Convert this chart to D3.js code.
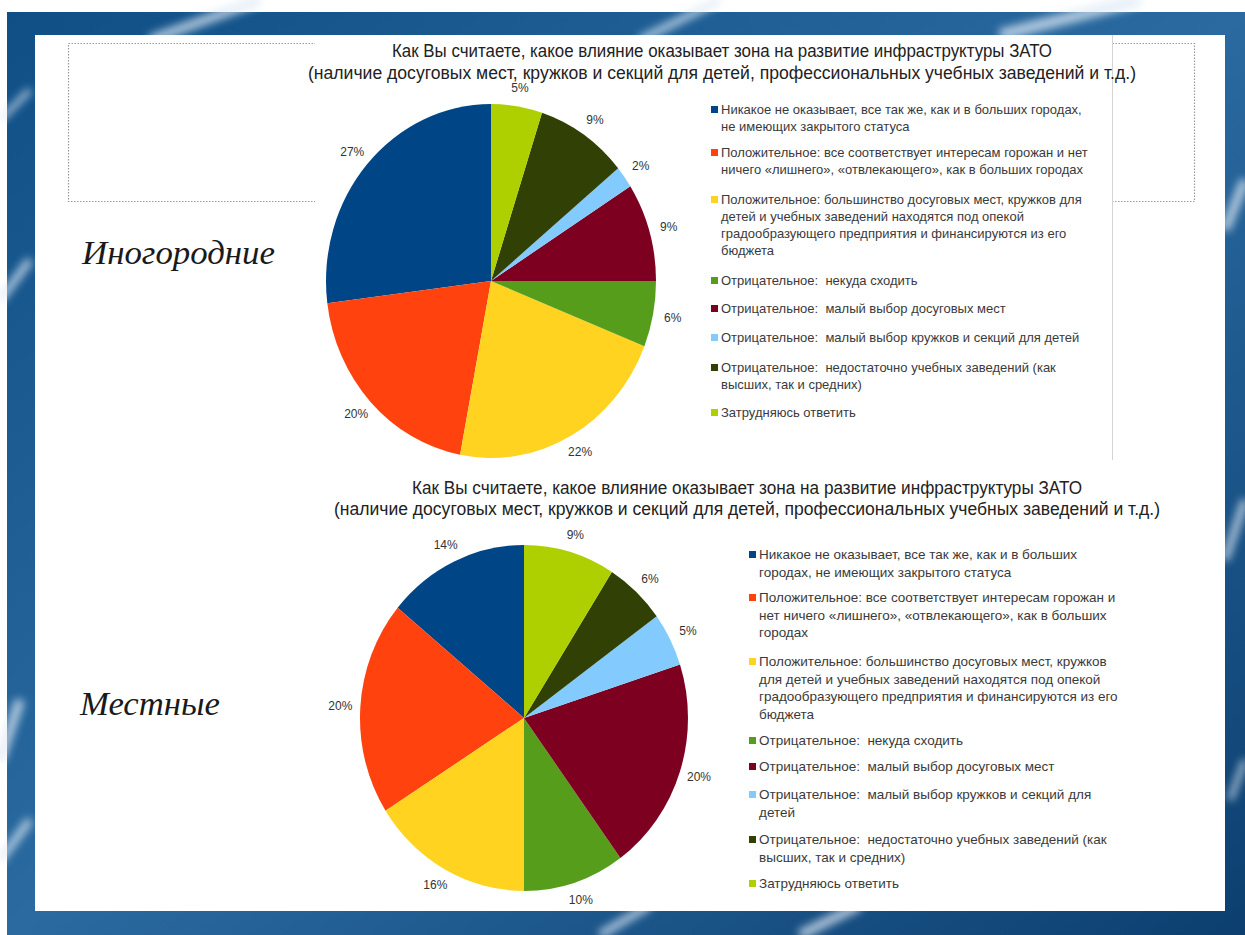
<!DOCTYPE html>
<html><head><meta charset="utf-8">
<script src="https://cdn.jsdelivr.net/npm/d3@7"></script>
<style>body{margin:0;padding:0;background:#fff;}svg{display:block;}text{white-space:pre;}</style>
</head><body>
<svg id="c" width="1245" height="935"></svg>
<script>
// ---- data ----
const categories = [
  "Никакое не оказывает, все так же, как и в больших городах, не имеющих закрытого статуса",
  "Положительное: все соответствует интересам горожан и нет ничего «лишнего», «отвлекающего», как в больших городах",
  "Положительное: большинство досуговых мест, кружков для детей и учебных заведений находятся под опекой градообразующего предприятия и финансируются из его бюджета",
  "Отрицательное:  некуда сходить",
  "Отрицательное:  малый выбор досуговых мест",
  "Отрицательное:  малый выбор кружков и секций для детей",
  "Отрицательное:  недостаточно учебных заведений (как высших, так и средних)",
  "Затрудняюсь ответить"
];
const colors = ["#004586","#ff420e","#ffd320","#579d1c","#7e0021","#83caff","#314004","#aecf00"];
const valuesNonResident = [27, 20, 22, 6, 9, 2, 9, 5];   // Иногородние
const valuesLocal       = [14, 20, 16, 10, 20, 5, 6, 9]; // Местные
const titleLines = [
  "Как Вы считаете, какое влияние оказывает зона на развитие инфраструктуры ЗАТО",
  "(наличие досуговых мест, кружков и секций для детей, профессиональных учебных заведений и т.д.)"
];
const groupNames = ["Иногородние", "Местные"];
const legendLinesTop = [
  ["Никакое не оказывает, все так же, как и в больших городах,", "не имеющих закрытого статуса"],
  ["Положительное: все соответствует интересам горожан и нет", "ничего «лишнего», «отвлекающего», как в больших городах"],
  ["Положительное: большинство досуговых мест, кружков для", "детей и учебных заведений находятся под опекой", "градообразующего предприятия и финансируются из его", "бюджета"],
  ["Отрицательное:  некуда сходить"],
  ["Отрицательное:  малый выбор досуговых мест"],
  ["Отрицательное:  малый выбор кружков и секций для детей"],
  ["Отрицательное:  недостаточно учебных заведений (как", "высших, так и средних)"],
  ["Затрудняюсь ответить"]
];
const legendLinesBottom = [
  ["Никакое не оказывает, все так же, как и в больших", "городах, не имеющих закрытого статуса"],
  ["Положительное: все соответствует интересам горожан и", "нет ничего «лишнего», «отвлекающего», как в больших", "городах"],
  ["Положительное: большинство досуговых мест, кружков", "для детей и учебных заведений находятся под опекой", "градообразующего предприятия и финансируются из его", "бюджета"],
  ["Отрицательное:  некуда сходить"],
  ["Отрицательное:  малый выбор досуговых мест"],
  ["Отрицательное:  малый выбор кружков и секций для", "детей"],
  ["Отрицательное:  недостаточно учебных заведений (как", "высших, так и средних)"],
  ["Затрудняюсь ответить"]
];

const svg = d3.select("#c");
const defs = svg.append("defs");

// ---- slide background ----
const bg = defs.append("linearGradient").attr("id","bg").attr("x1","0").attr("y1","0").attr("x2","1").attr("y2","1");
bg.append("stop").attr("offset","0").attr("stop-color","#0f4f86");
bg.append("stop").attr("offset","0.5").attr("stop-color","#2a6aa0");
bg.append("stop").attr("offset","1").attr("stop-color","#0c3f70");
defs.append("filter").attr("id","blur").append("feGaussianBlur").attr("stdDeviation","4");
svg.append("rect").attr("x",0).attr("y",0).attr("width",1245).attr("height",935).attr("fill","#ffffff");
svg.append("rect").attr("x",7).attr("y",12).attr("width",1238).attr("height",923).attr("fill","url(#bg)");
const streaks = svg.append("g").attr("filter","url(#blur)").attr("stroke","#dfeaf5").attr("fill","none").attr("opacity",0.75);
[[150,40,260,0,10],[640,40,720,0,8],[1000,35,1140,0,12],[20,700,0,760,10],[0,300,30,260,8],[1225,230,1245,180,10],[1225,560,1245,500,8],
 [600,935,650,905,8],[800,935,860,905,10],[1230,800,1245,760,6],[0,860,30,820,8],[0,120,30,90,6]]
 .forEach(s=>streaks.append("line").attr("x1",s[0]).attr("y1",s[1]).attr("x2",s[2]).attr("y2",s[3]).attr("stroke-width",s[4]));
// white content panel
svg.append("rect").attr("x",35).attr("y",35).attr("width",1190).attr("height",876).attr("fill","#ffffff");

// dotted placeholder box (behind top chart)
svg.append("rect").attr("x",68.5).attr("y",43.5).attr("width",1126).attr("height",158)
  .attr("fill","none").attr("stroke","#9a9a9a").attr("stroke-width",1.2).attr("stroke-dasharray","1.5,1.5");

// group labels
const gl = [{x:82,y:264,w:193},{x:80,y:715,w:140}];
groupNames.forEach((n,i)=>{
  svg.append("text").attr("x",gl[i].x).attr("y",gl[i].y).attr("textLength",gl[i].w).attr("lengthAdjust","spacingAndGlyphs")
    .attr("font-family","'Liberation Serif','DejaVu Serif',serif").attr("font-style","italic").attr("font-size",33)
    .attr("fill","#1a1a1a").text(n);
});

function drawChart(o){
  const g = svg.append("g");
  if(o.box){
    g.append("rect").attr("x",o.box[0]).attr("y",o.box[1]).attr("width",o.box[2]-o.box[0]).attr("height",o.box[3]-o.box[1]).attr("fill","#fff");
    g.append("line").attr("x1",o.box[2]+0.5).attr("x2",o.box[2]+0.5).attr("y1",o.box[1]).attr("y2",o.box[3]).attr("stroke","#d4d4d4").attr("stroke-width",1);
  }
  // title
  titleLines.forEach((t,i)=>{
    g.append("text").attr("x",o.titleX).attr("y",o.titleY[i]).attr("text-anchor","middle")
      .attr("textLength",o.titleW[i]).attr("lengthAdjust","spacingAndGlyphs")
      .attr("font-family","'Liberation Sans',Arial,sans-serif").attr("font-size",17.5).attr("fill","#222").text(t);
  });
  // pie
  const pie = d3.pie().sort(null).value(d=>d).startAngle(0).endAngle(-2*Math.PI);
  const arcs = pie(o.values);
  const arc = d3.arc().innerRadius(0).outerRadius(o.rx);
  const pg = g.append("g").attr("transform",`translate(${o.cx},${o.cy}) scale(1,${o.ry/o.rx})`);
  pg.selectAll("path").data(arcs).join("path").attr("d",arc).attr("fill",(d,i)=>colors[i]);
  // labels
  g.selectAll("text.pl").data(arcs).join("text").attr("class","pl")
    .each(function(d){
      const a=(d.startAngle+d.endAngle)/2, s=Math.sin(a), c=-Math.cos(a);
      const x=o.cx+s*(o.rx+20), y=o.cy+c*(o.ry+18);
      d3.select(this).attr("x",x).attr("y",y+4);
    })
    .attr("text-anchor","middle").attr("font-family","'Liberation Sans',Arial,sans-serif").attr("font-size",12)
    .attr("fill","#333").text(d=>d.data+"%");
  // legend
  o.legend.forEach((lines,i)=>{
    const y=o.legendY[i];
    g.append("rect").attr("x",o.lx).attr("y",y-4).attr("width",7).attr("height",7).attr("fill",colors[i]);
    lines.forEach((ln,j)=>{
      g.append("text").attr("x",o.lx+10).attr("y",y+4+j*o.lh).attr("font-family","'Liberation Sans',Arial,sans-serif")
        .attr("font-size",o.lfs).attr("fill","#3a3a3a").attr("xml:space","preserve").text(ln);
    });
  });
}

drawChart({
  box:[315,35,1112,460], titleX:722, titleY:[57,79], titleW:[660,828],
  cx:491, cy:281, rx:165, ry:177, values:valuesNonResident,
  legend:legendLinesTop, lx:711, lh:17, lfs:13, legendY:[110,153,200,281,309,338,368,413]
});
drawChart({
  box:null, titleX:747, titleY:[494,515], titleW:[670,826],
  cx:524, cy:718, rx:164, ry:173, values:valuesLocal,
  legend:legendLinesBottom, lx:749, lh:17.5, lfs:13.5, legendY:[555,598,662,741,767,795,840,884]
});
</script>
</body></html>
